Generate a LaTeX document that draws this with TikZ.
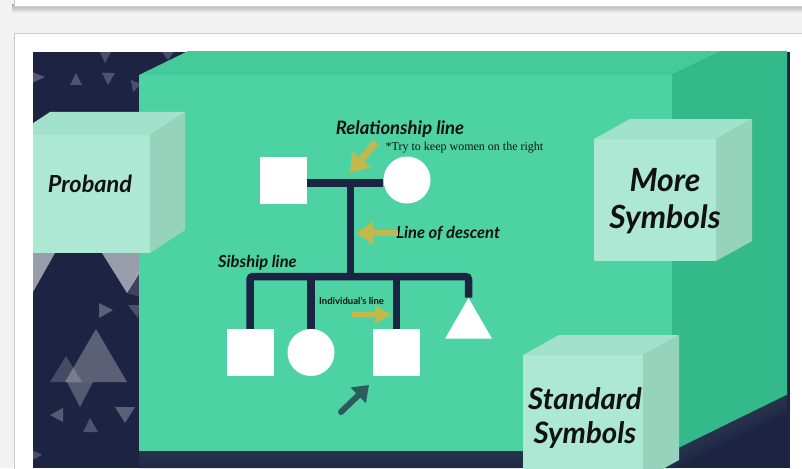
\documentclass[tikz,border=0pt]{standalone}
\usepackage{fontspec}
\setmainfont{Lato}
\newfontfamily\notefont{Liberation Serif}
\usetikzlibrary{arrows.meta,shapes.geometric}

\definecolor{pagebg}{HTML}{F2F2F2}
\definecolor{cardline}{HTML}{CBCBCB}
\definecolor{navy}{HTML}{1D2443}
\definecolor{boxfront}{HTML}{4DD3A3}
\definecolor{boxtop}{HTML}{45CA9A}
\definecolor{boxside}{HTML}{34B98A}
\definecolor{cubefront}{HTML}{ADE8D5}
\definecolor{cubetop}{HTML}{A2E1CC}
\definecolor{cubeside}{HTML}{96D3BC}
\definecolor{pedline}{HTML}{1C2444}
\definecolor{hint}{HTML}{C1B94B}
\definecolor{pointer}{HTML}{2B5B5C}
\definecolor{ink}{HTML}{111111}
\definecolor{glow}{HTML}{34495C}

% mint cube: front corners (x0,y0)-(x1,y1), depth vector (dx,dy)
\newcommand\mintcube[6]{%
  \fill[cubetop] (#1,#2) -- (#1+#5,#2+#6) -- (#3+#5,#2+#6) -- (#3,#2) -- cycle;
  \fill[cubeside] (#3,#2) -- (#3+#5,#2+#6) -- (#3+#5,#4+#6) -- (#3,#4) -- cycle;
  \fill[cubefront] (#1,#2) rectangle (#3,#4);
}
% translucent background triangle
\newcommand\shard[4]{\fill[white,opacity=#4] #1 -- #2 -- #3 -- cycle;}

\tikzset{
  sqnode/.style={rectangle, fill=white, minimum size=47pt, inner sep=0pt},
  circnode/.style={circle, fill=white, minimum size=47pt, inner sep=0pt},
  trinode/.style={regular polygon, regular polygon sides=3, fill=white, minimum size=54pt, inner sep=0pt},
  kin/.style={draw=pedline, line width=7.5pt},
  hintarrow/.style={draw=hint, line width=5.5pt, -{Triangle[length=17pt,width=22pt]}},
  lbltext/.style={text=ink, inner sep=0pt, font=\bfseries\itshape},
  cubetext/.style={text=ink, inner sep=0pt, align=center, font=\bfseries\itshape},
}

\begin{document}
\begin{tikzpicture}[x=1pt,y=-1pt]
\useasboundingbox (0,0) rectangle (802,468);

% page and slide cards
\fill[pagebg] (0,0) rectangle (802,468);
\shade[top color=black!30, bottom color=pagebg] (12,5) rectangle (802,13);
\fill[white] (14,-2) rectangle (802,6);
\draw[cardline, line width=0.8pt] (14,-2) -- (14,6) -- (802,6);
\fill[white, draw=cardline, line width=0.8pt] (14,33) rectangle (812,480);

% slide background
\fill[navy] (33,52) rectangle (790,468);

\begin{scope}
\clip (33,52) rectangle (787,468);

% background shards
\shard{(32,72)}{(45,77)}{(32,83)}{0.25}
\shard{(70,85)}{(76,73)}{(82,85)}{0.22}
\shard{(102,73)}{(115,73)}{(108,85)}{0.22}
\shard{(100,52)}{(111,52)}{(105,63)}{0.2}
\shard{(162,52)}{(174,52)}{(168,60)}{0.2}
\shard{(131,80)}{(141,84)}{(133,92)}{0.2}
\shard{(20,253)}{(55,253)}{(33,292)}{0.55}
\shard{(102,253)}{(152,253)}{(127,293)}{0.55}
\shard{(127,293)}{(150,250)}{(150,300)}{0.15}
\shard{(99,303)}{(113,310)}{(99,318)}{0.28}
\shard{(128,305)}{(140,305)}{(138,318)}{0.2}
\shard{(65,382)}{(96,329)}{(127,382)}{0.28}
\shard{(50,382)}{(66,356)}{(82,382)}{0.18}
\shard{(67,382)}{(93,382)}{(80,407)}{0.25}
\shard{(63,408)}{(50,415)}{(63,422)}{0.25}
\shard{(115,407)}{(135,407)}{(125,423)}{0.28}
\shard{(83,432)}{(90,418)}{(98,432)}{0.22}
\shard{(32,450)}{(42,455)}{(32,460)}{0.2}

% soft glow under the big box
\foreach \d in {2,4,...,20}
  \fill[glow, opacity=0.07] (139,451) -- (672,451) -- (800,388) -- (800,388+\d) -- (672,451+\d) -- (139,451+\d) -- cycle;

% big green box
\fill[boxtop] (139,75) -- (672,75) -- (754,35) -- (221,35) -- cycle;
\fill[boxside] (672,75) -- (1080,-125) -- (1080,251) -- (672,451) -- cycle;
\fill[boxfront] (139,75) rectangle (672,451);

% mint cubes
\mintcube{15}{135}{150}{253}{35}{-23}
\mintcube{594}{139}{716}{261}{36}{-20}
\mintcube{523}{355}{643}{480}{36}{-20}
\end{scope}

% cube captions
\node[cubetext, font=\bfseries\itshape\fontsize{23.5}{27}\selectfont, anchor=base] (proband) at (90,192) {Proband};
\node[cubetext, font=\bfseries\itshape\fontsize{32}{37}\selectfont] (more) at (665,201) {More\\Symbols};
\node[cubetext, font=\bfseries\itshape\fontsize{29.5}{34}\selectfont] (standard) at (585,418) {Standard\\Symbols};

% pedigree individuals
\node[sqnode] (father) at (283.5,180) {};
\node[circnode] (mother) at (407,180) {};
\node[sqnode] (son1) at (250,352.5) {};
\node[circnode] (daughter) at (311,352.5) {};
\node[sqnode] (son2) at (396.5,352.5) {};
\node[trinode] (unknown) at (468.5,325) {};

% pedigree lines
\coordinate (couple) at (350.5,183);
\coordinate (sib) at (350.5,276.5);
\draw[kin] ([yshift=-3pt]father.east) -- ([yshift=-3pt]mother.west);
\draw[kin] (couple) -- (sib);
\draw[kin, rounded corners=3pt] (son1.north) |- (unknown.north |- sib) -- (unknown.north);
\draw[kin] (daughter.north) -- (daughter.north |- sib);
\draw[kin] (son2.north) -- (son2.north |- sib);

% labels
\node[lbltext, font=\bfseries\itshape\fontsize{18.5}{22}\selectfont, anchor=base] (rellabel) at (400,135) {Relationship line};
\node[text=ink, inner sep=0pt, font=\notefont\fontsize{12}{14}\selectfont, anchor=base] (note) at (464.5,150) {*Try to keep women on the right};
\node[lbltext, font=\bfseries\itshape\fontsize{16.5}{20}\selectfont, anchor=base west] (desclabel) at (396,238) {Line of descent};
\node[lbltext, font=\bfseries\itshape\fontsize{16.5}{20}\selectfont, anchor=base west] (siblabel) at (218,267) {Sibship line};
\node[lbltext, font=\bfseries\fontsize{9.5}{11}\selectfont, anchor=base west] (indlabel) at (319,304) {Individual's line};

% pointer arrows
\coordinate (relfrom) at (376,142);
\coordinate (relto) at (350,173);
\coordinate (descfrom) at (398,233);
\coordinate (descto) at (356,233);
\coordinate (indfrom) at (352,314.5);
\coordinate (indto) at (391,314.5);
\coordinate (ptrfrom) at (341,412);
\coordinate (ptrto) at (369,385);
\draw[hintarrow, line width=7pt, -{Triangle[length=18pt,width=24pt]}] (relfrom) -- (relto);
\draw[hintarrow] (descfrom) -- (descto);
\draw[hintarrow, line width=4.5pt, -{Triangle[length=16pt,width=18pt]}] (indfrom) -- (indto);
\draw[draw=pointer, line width=6pt, line cap=round, -{Triangle[length=15pt,width=21pt]}] (ptrfrom) -- (ptrto);
\end{tikzpicture}
\end{document}
